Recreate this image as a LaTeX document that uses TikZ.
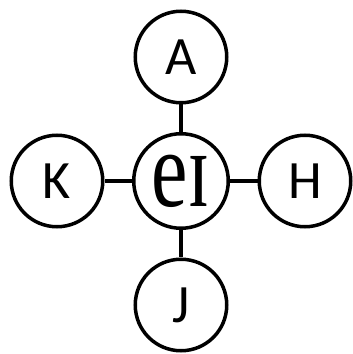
\documentclass[tikz,border=0pt]{standalone}
\usepackage{fontspec}
\usepackage{graphicx}
\setmainfont{Carlito}
\newfontfamily\ipafont{Liberation Serif}
\usetikzlibrary{positioning}

\begin{document}
\begin{tikzpicture}[line width=3.5pt,
    hub/.style={circle,draw,minimum size=94.5pt,inner sep=0pt},
    leaf/.style={circle,draw,minimum size=91.5pt,inner sep=0pt,font=\fontsize{54}{60}\selectfont}]
      \useasboundingbox(0,0)rectangle(353pt,354pt);
      \node[hub](c)at(181pt,173pt){\ipafont\fontsize{82}{90}\selectfont\scalebox{1}[1.33]{eɪ}};
      \foreach \name/\dir in{A/above,H/right,J/below,K/left}{
        \node[leaf,\dir=27.5pt of c](\name){\name};
        \draw(c)--(\name);
      }
    \end{tikzpicture}
\end{document}
